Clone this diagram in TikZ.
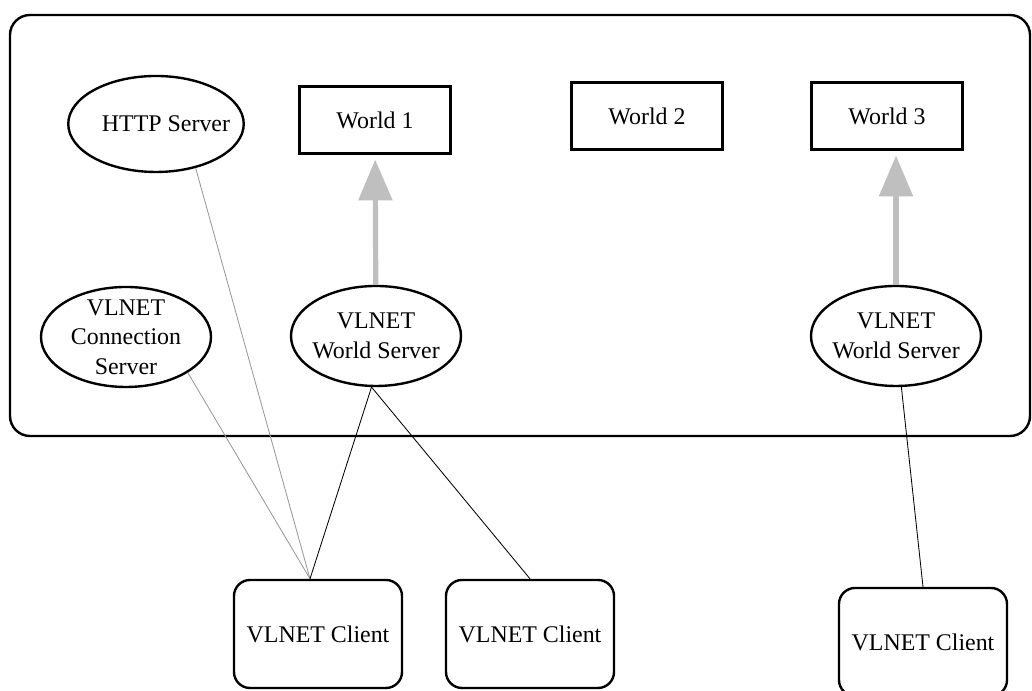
\documentclass[tikz,border=0pt]{standalone}
\usepackage{fontspec}
\setmainfont{Liberation Serif}
\usepackage{tikz}
\usetikzlibrary{shapes.geometric}
\usetikzlibrary{arrows.meta}
\usetikzlibrary{positioning}
\tikzset{every node/.style={font=\fontsize{17}{21}\selectfont},
      server/.style={ellipse, draw, line width=1.7pt, align=center,
      inner sep=-0.3cm, minimum width=4.25cm, minimum height=2.5cm},
      world/.style={rectangle, draw, line width=1.7pt,
      minimum width=3.775cm, minimum height=1.675cm},
      client/.style={rectangle, rounded corners=0.4cm, draw, line width=1.7pt,
      minimum width=4.2cm, minimum height=2.7cm},
      greyline/.style={draw=black!40, line width=0.6pt},
      blackline/.style={draw=black, line width=0.6pt},
      bigarrow/.style={draw=gray!50, line width=3.7pt,
      -{Triangle[length=29pt,width=23.5pt]}, shorten >=3.5pt}}

\begin{document}
\begin{tikzpicture}
          \useasboundingbox (0,0) rectangle (25.8,17.275);
          \draw[line width=1.7pt, rounded corners=0.5cm] (0.25,6.375) rectangle (25.75,16.9);
          \node[server, minimum width=4.3cm, minimum height=2.4cm] (http) at (3.9,14.175) {\hspace*{0.5cm}HTTP Server};
          \node[world] (w1) at (9.375,14.275) {World 1};
          \node[world] (w2) at (16.175,14.375) {World 2};
          \node[world] (w3) at (22.175,14.375) {World 3};
          \node[server] (cs) at (3.15,8.85) {VLNET\\Connection\\Server};
          \node[server] (ws1) at (9.4,8.875) {VLNET\\World Server};
          \node[server] (ws3) at (22.4,8.875) {VLNET\\World Server};
          \node[client] (c1) at (7.95,1.425) {VLNET Client};
          \node[client] (c2) at (13.25,1.425) {VLNET Client};
          \node[client] (c3) at (23.075,1.225) {VLNET Client};
          \draw[bigarrow] (ws1) -- (w1);
          \draw[bigarrow] (ws3.north) -- (ws3.north |- w3.south);
          \draw[greyline] (http.-48) -- ([xshift=-0.2cm]c1.north);
          \draw[greyline] (cs.-30) -- ([xshift=-0.2cm]c1.north);
          \draw[blackline] (ws1.-95) -- ([xshift=-0.2cm]c1.north);
          \draw[blackline] (ws1.-95) -- (c2.north);
          \draw[blackline] (ws3.-84) -- (c3.north);
       \end{tikzpicture}
\end{document}
